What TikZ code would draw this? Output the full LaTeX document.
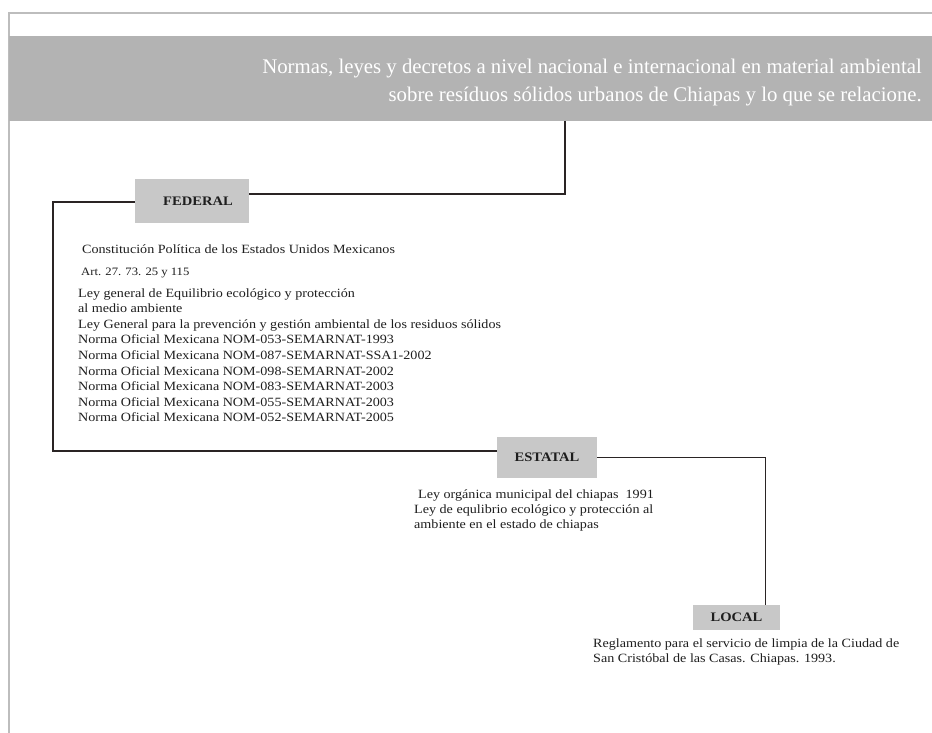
\documentclass[tikz,border=0pt]{standalone}
\usepackage{fontspec}
\setmainfont{Liberation Serif}
\newfontfamily\widefont[FakeStretch=1.12]{Liberation Serif}
\definecolor{bannergray}{HTML}{B3B3B3}
\definecolor{boxgray}{HTML}{C8C8C8}
\definecolor{framegray}{HTML}{BDBDBD}
\definecolor{linec}{HTML}{2A2424}
\definecolor{txt}{HTML}{1E1E1E}
\begin{document}
\begin{tikzpicture}[x=1pt,y=-1pt,
  lvl/.style={fill=boxgray, draw=none, inner sep=0, text=txt,
    font=\widefont\bfseries\fontsize{13}{14}\selectfont},
  body/.style={anchor=base west, inner sep=0, text=txt,
    font=\widefont\fontsize{12.6}{14}\selectfont},
  bodysm/.style={body, font=\widefont\fontsize{11.3}{13}\selectfont},
  banner/.style={anchor=base east, inner sep=0, text=white,
    font=\fontsize{20.8}{24}\selectfont},
  conn/.style={draw=linec, line width=1.4pt},
  bracket/.style={draw=linec, line width=2.5pt}]
\useasboundingbox (0,0) rectangle (932,733);
\fill[white] (0,0) rectangle (932,733);
\draw[framegray, line width=1.2pt] (9,733) -- (9,13) -- (932,13);
\fill[bannergray] (9,36) rectangle (932,121);
\node[banner] (t1) at (922,74) {Normas, leyes y decretos a nivel nacional e internacional en material ambiental};
\node[banner] (t2) at (922,102) {sobre resíduos sólidos urbanos de Chiapas y lo que se relacione.};
\coordinate (bb) at (565,121);
\coordinate (c1) at (53,300);

\node[lvl, minimum width=114pt, minimum height=44pt, text width=100pt, align=center] (federal) at (192,201) {\hspace*{12pt}FEDERAL};
\node[lvl, minimum width=100pt, minimum height=41pt] (estatal) at (547,457.5) {ESTATAL};
\node[lvl, minimum width=87pt, minimum height=25pt] (local) at (736.5,617.5) {LOCAL};

\draw[conn] (bb) |- ([yshift=7pt]federal.east);
\draw[bracket] ([yshift=-1pt]federal.west) -| (c1) |- ([yshift=6.5pt]estatal.west);
\draw[conn] (estatal.east) -| ([xshift=29pt]local.north);

\node[body] (f1) at (82,253) {Constitución Política de los Estados Unidos Mexicanos};
\node[bodysm] (f2) at (81,275) {Art. 27. 73. 25 y 115};
\foreach \t [count=\i] in {
  Ley general de Equilibrio ecológico y protección,
  al medio ambiente,
  Ley General para la prevención y gestión ambiental de los residuos sólidos,
  Norma Oficial Mexicana NOM-053-SEMARNAT-1993,
  Norma Oficial Mexicana NOM-087-SEMARNAT-SSA1-2002,
  Norma Oficial Mexicana NOM-098-SEMARNAT-2002,
  Norma Oficial Mexicana NOM-083-SEMARNAT-2003,
  Norma Oficial Mexicana NOM-055-SEMARNAT-2003,
  Norma Oficial Mexicana NOM-052-SEMARNAT-2005}
  \node[body] (l\i) at (78,{297+15.6*(\i-1)}) {\t};

\node[body] (e1) at (418,498) {Ley orgánica municipal del chiapas\ \ 1991};
\node[body] (e2) at (414,513) {Ley de equlibrio ecológico y protección al};
\node[body] (e3) at (414,528) {ambiente en el estado de chiapas};

\node[body] (o1) at (593,647) {Reglamento para el servicio de limpia de la Ciudad de};
\node[body] (o2) at (593,662) {San Cristóbal de las Casas. Chiapas. 1993.};
\end{tikzpicture}
\end{document}
